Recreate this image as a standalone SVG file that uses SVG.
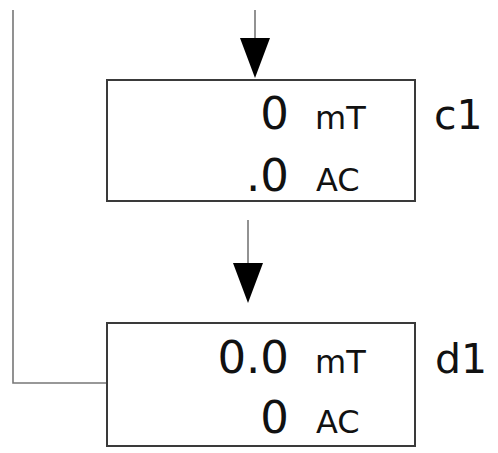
<svg xmlns="http://www.w3.org/2000/svg" width="498" height="453" viewBox="0 0 498 453">
<style>
.box{fill:#fff;stroke:#3a3a3a;stroke-width:2}
.wire{fill:none;stroke:#777;stroke-width:1.6}
.head{fill:#000}
.num{font-family:"DejaVu Sans",Verdana,sans-serif;font-size:45px;fill:#111;text-anchor:end}
.unit{font-family:"DejaVu Sans",Verdana,sans-serif;font-size:32px;fill:#111}
.lbl{font-family:"DejaVu Sans",Verdana,sans-serif;font-size:41px;fill:#111}
</style>
<rect width="498" height="453" fill="#fff"/>
<g id="connectors">
<polyline class="wire" points="13,10 13,383 107,383"/>
<line class="wire" x1="255" y1="10" x2="255" y2="40"/>
<polygon class="head" points="240,38 270,38 255,78"/>
<line class="wire" x1="248" y1="220" x2="248" y2="265"/>
<polygon class="head" points="233,263 263,263 248,303"/>
</g>
<g id="c1">
<rect class="box" x="107" y="80" width="308" height="121"/>
<text class="num" x="289" y="129">0</text>
<text class="unit" x="315" y="129">mT</text>
<text class="num" x="289" y="191">.0</text>
<text class="unit" x="316" y="191">AC</text>
<text class="lbl" x="434" y="129">c1</text>
</g>
<g id="d1">
<rect class="box" x="107" y="323" width="308" height="123"/>
<text class="num" x="289" y="373">0.0</text>
<text class="unit" x="315" y="373">mT</text>
<text class="num" x="289" y="433">0</text>
<text class="unit" x="316" y="433">AC</text>
<text class="lbl" x="435" y="373">d1</text>
</g>
</svg>
